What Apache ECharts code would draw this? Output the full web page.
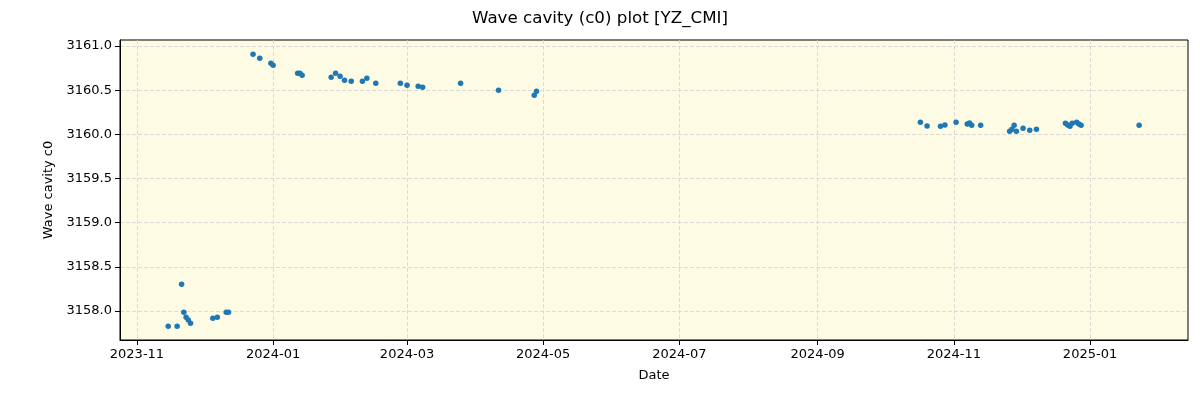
<!DOCTYPE html>
<html>
<head>
<meta charset="utf-8">
<script src="https://cdn.jsdelivr.net/npm/echarts@6/dist/echarts.min.js"></script>
<style>html,body{margin:0;padding:0;background:#fff}#c{width:1200px;height:400px}</style>
</head>
<body>
<div id="c"></div>
<script>
const dates = [
  '2023-11-15','2023-11-19','2023-11-21','2023-11-22','2023-11-23','2023-11-24','2023-11-25',
  '2023-12-05','2023-12-07','2023-12-11','2023-12-12',
  '2023-12-23','2023-12-26','2023-12-31','2024-01-01','2024-01-12','2024-01-13','2024-01-14',
  '2024-01-27','2024-01-29','2024-01-31','2024-02-02','2024-02-05','2024-02-10','2024-02-12',
  '2024-02-16','2024-02-27','2024-03-01','2024-03-06','2024-03-08','2024-03-25','2024-04-11',
  '2024-04-28','2024-04-27',
  '2024-10-17','2024-10-20','2024-10-26','2024-10-28','2024-11-02','2024-11-07','2024-11-08',
  '2024-11-09','2024-11-13','2024-11-26','2024-11-27','2024-11-28','2024-11-29','2024-12-02',
  '2024-12-05','2024-12-08','2024-12-21','2024-12-22','2024-12-23','2024-12-24','2024-12-26',
  '2024-12-27','2024-12-28','2025-01-23'
];
const values = [
  3157.827,3157.827,3158.302,3157.985,3157.929,3157.898,3157.861,
  3157.917,3157.929,3157.985,3157.985,
  3160.906,3160.861,3160.804,3160.781,3160.691,3160.691,3160.668,
  3160.646,3160.691,3160.657,3160.612,3160.600,3160.600,3160.634,
  3160.578,3160.578,3160.555,3160.544,3160.532,3160.578,3160.498,
  3160.487,3160.442,
  3160.136,3160.094,3160.091,3160.106,3160.136,3160.117,3160.128,
  3160.102,3160.102,3160.034,3160.057,3160.102,3160.034,3160.068,
  3160.046,3160.057,3160.125,3160.106,3160.091,3160.125,3160.136,
  3160.117,3160.102,3160.102
];
const xTicks = ['2023-11-01','2024-01-01','2024-03-01','2024-05-01','2024-07-01','2024-09-01','2024-11-01','2025-01-01'];
const yTicks = [3158.0,3158.5,3159.0,3159.5,3160.0,3160.5,3161.0];

const DAY = 86400000;
const ts = s => { const p = s.split('-').map(Number); return Date.UTC(p[0], p[1]-1, p[2]); };
const xTickTs = xTicks.map(ts);
const font = 'DejaVu Sans';
const gridLine = {color: '#d3d3d3', type: [4, 2], width: 0.8};
const chart = echarts.init(document.getElementById('c'), null, {renderer: 'canvas'});
chart.setOption({
  animation: false,
  backgroundColor: '#ffffff',
  title: {
    text: 'Wave cavity (c0) plot [YZ_CMI]',
    left: 'center', top: 5,
    textStyle: {fontFamily: font, fontSize: 16.7, fontWeight: 'normal', color: '#000'}
  },
  grid: {
    left: 120, right: 12, top: 40, bottom: 60,
    show: true, backgroundColor: '#fdfbe3', borderColor: '#000', borderWidth: 1
  },
  xAxis: {
    type: 'value',
    min: ts('2023-10-24') + 0.4*DAY,
    max: ts('2025-02-13') + 0.9*DAY,
    name: 'Date', nameLocation: 'middle', nameGap: 29,
    nameTextStyle: {fontFamily: font, fontSize: 13, color: '#000'},
    axisLine: {show: true, onZero: false, lineStyle: {color: '#000', width: 1}},
    axisTick: {show: true, inside: false, length: 5, customValues: xTickTs, lineStyle: {color: '#000'}},
    axisLabel: {
      customValues: xTickTs, fontFamily: font, fontSize: 13, color: '#000', margin: 8,
      formatter: v => { const d = new Date(v); return d.getUTCFullYear() + '-' + String(d.getUTCMonth()+1).padStart(2,'0'); }
    },
    splitLine: {show: true, customValues: xTickTs, lineStyle: gridLine}
  },
  yAxis: {
    type: 'value',
    min: 3157.672, max: 3161.068,
    name: 'Wave cavity c0', nameLocation: 'middle', nameGap: 65,
    nameTextStyle: {fontFamily: font, fontSize: 13, color: '#000'},
    axisLine: {show: true, onZero: false, lineStyle: {color: '#000', width: 1}},
    axisTick: {show: true, inside: false, length: 5, customValues: yTicks, lineStyle: {color: '#000'}},
    axisLabel: {customValues: yTicks, fontFamily: font, fontSize: 13, color: '#000', margin: 8,
      formatter: v => v.toFixed(1)},
    splitLine: {show: true, customValues: yTicks, lineStyle: gridLine}
  },
  series: [{
    type: 'scatter',
    symbol: 'circle', symbolSize: 5.5,
    itemStyle: {color: '#1f77b4', opacity: 1},
    data: dates.map((d, i) => [ts(d), values[i]])
  }]
});
</script>
</body>
</html>
